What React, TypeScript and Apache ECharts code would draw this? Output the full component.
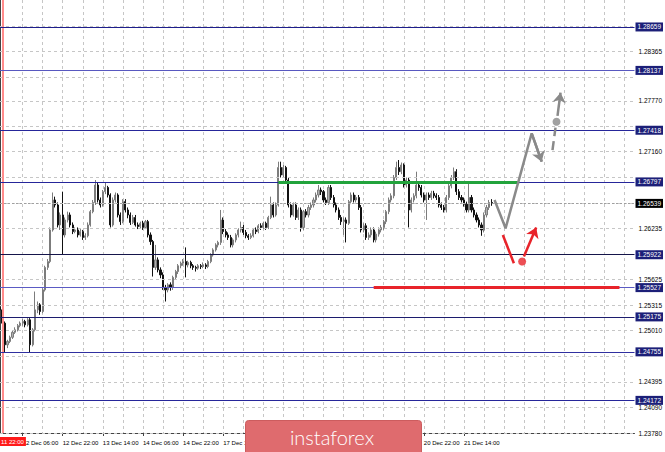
import React, { useEffect, useRef } from 'react';
import * as echarts from 'echarts';

// [open, close, low, high] per H1 bar
const candles: number[][] = [
  [1.2529, 1.2526, 1.2522, 1.2532],
  [1.2526, 1.2510, 1.2508, 1.2529],
  [1.2510, 1.2484, 1.2475, 1.2512],
  [1.2484, 1.2488, 1.2480, 1.2490],
  [1.2488, 1.2493, 1.2486, 1.2495],
  [1.2493, 1.2499, 1.2491, 1.2501],
  [1.2499, 1.2502, 1.2497, 1.2505],
  [1.2502, 1.2507, 1.2500, 1.2509],
  [1.2507, 1.2510, 1.2505, 1.2512],
  [1.2510, 1.2512, 1.2507, 1.2515],
  [1.2512, 1.2508, 1.2505, 1.2514],
  [1.2508, 1.2514, 1.2506, 1.2516],
  [1.2514, 1.2484, 1.2475, 1.2516],
  [1.2484, 1.2502, 1.2482, 1.2504],
  [1.2502, 1.2526, 1.2500, 1.2548],
  [1.2526, 1.2532, 1.2522, 1.2536],
  [1.2532, 1.2524, 1.2520, 1.2534],
  [1.2524, 1.2550, 1.2522, 1.2552],
  [1.2550, 1.2577, 1.2548, 1.2579],
  [1.2577, 1.2584, 1.2574, 1.2587],
  [1.2584, 1.2622, 1.2582, 1.2625],
  [1.2622, 1.2658, 1.2620, 1.2667],
  [1.2658, 1.2652, 1.2649, 1.2662],
  [1.2652, 1.2628, 1.2625, 1.2655],
  [1.2628, 1.2640, 1.2622, 1.2643],
  [1.2640, 1.2616, 1.2592, 1.2668],
  [1.2616, 1.2634, 1.2613, 1.2637],
  [1.2634, 1.2640, 1.2631, 1.2644],
  [1.2640, 1.2628, 1.2625, 1.2643],
  [1.2628, 1.2620, 1.2617, 1.2631],
  [1.2620, 1.2622, 1.2618, 1.2625],
  [1.2622, 1.2616, 1.2613, 1.2625],
  [1.2616, 1.2620, 1.2614, 1.2623],
  [1.2620, 1.2613, 1.2610, 1.2622],
  [1.2613, 1.2615, 1.2610, 1.2618],
  [1.2615, 1.2628, 1.2613, 1.2631],
  [1.2628, 1.2644, 1.2626, 1.2646],
  [1.2644, 1.2655, 1.2642, 1.2658],
  [1.2655, 1.2676, 1.2652, 1.2682],
  [1.2676, 1.2658, 1.2655, 1.2679],
  [1.2658, 1.2652, 1.2649, 1.2661],
  [1.2652, 1.2668, 1.2650, 1.2670],
  [1.2668, 1.2673, 1.2665, 1.2679],
  [1.2673, 1.2664, 1.2661, 1.2675],
  [1.2664, 1.2628, 1.2625, 1.2666],
  [1.2628, 1.2658, 1.2626, 1.2661],
  [1.2658, 1.2664, 1.2655, 1.2667],
  [1.2664, 1.2640, 1.2637, 1.2666],
  [1.2640, 1.2632, 1.2628, 1.2643],
  [1.2632, 1.2656, 1.2630, 1.2659],
  [1.2656, 1.2646, 1.2643, 1.2659],
  [1.2646, 1.2640, 1.2636, 1.2649],
  [1.2640, 1.2631, 1.2628, 1.2643],
  [1.2631, 1.2637, 1.2629, 1.2640],
  [1.2637, 1.2628, 1.2626, 1.2640],
  [1.2628, 1.2626, 1.2623, 1.2631],
  [1.2626, 1.2630, 1.2624, 1.2632],
  [1.2630, 1.2625, 1.2622, 1.2633],
  [1.2625, 1.2632, 1.2623, 1.2634],
  [1.2632, 1.2616, 1.2613, 1.2634],
  [1.2616, 1.2608, 1.2604, 1.2619],
  [1.2608, 1.2577, 1.2566, 1.2610],
  [1.2577, 1.2586, 1.2574, 1.2604],
  [1.2586, 1.2574, 1.2571, 1.2589],
  [1.2574, 1.2568, 1.2564, 1.2577],
  [1.2568, 1.2553, 1.2550, 1.2571],
  [1.2553, 1.2550, 1.2536, 1.2556],
  [1.2550, 1.2556, 1.2547, 1.2558],
  [1.2556, 1.2553, 1.2549, 1.2559],
  [1.2553, 1.2565, 1.2550, 1.2567],
  [1.2565, 1.2572, 1.2562, 1.2574],
  [1.2572, 1.2579, 1.2569, 1.2581],
  [1.2579, 1.2582, 1.2576, 1.2584],
  [1.2582, 1.2584, 1.2579, 1.2587],
  [1.2584, 1.2580, 1.2565, 1.2601],
  [1.2580, 1.2583, 1.2577, 1.2585],
  [1.2583, 1.2579, 1.2576, 1.2585],
  [1.2579, 1.2577, 1.2574, 1.2581],
  [1.2577, 1.2576, 1.2572, 1.2579],
  [1.2576, 1.2579, 1.2574, 1.2581],
  [1.2579, 1.2578, 1.2575, 1.2581],
  [1.2578, 1.2580, 1.2576, 1.2583],
  [1.2580, 1.2578, 1.2575, 1.2582],
  [1.2578, 1.2584, 1.2576, 1.2586],
  [1.2584, 1.2592, 1.2582, 1.2594],
  [1.2592, 1.2598, 1.2590, 1.2600],
  [1.2598, 1.2604, 1.2596, 1.2606],
  [1.2604, 1.2607, 1.2601, 1.2609],
  [1.2607, 1.2634, 1.2604, 1.2646],
  [1.2634, 1.2620, 1.2617, 1.2637],
  [1.2620, 1.2616, 1.2613, 1.2623],
  [1.2616, 1.2613, 1.2610, 1.2619],
  [1.2613, 1.2604, 1.2601, 1.2616],
  [1.2604, 1.2610, 1.2601, 1.2612],
  [1.2610, 1.2616, 1.2607, 1.2618],
  [1.2616, 1.2622, 1.2613, 1.2624],
  [1.2622, 1.2625, 1.2619, 1.2632],
  [1.2625, 1.2619, 1.2616, 1.2628],
  [1.2619, 1.2615, 1.2612, 1.2622],
  [1.2615, 1.2613, 1.2610, 1.2617],
  [1.2613, 1.2615, 1.2611, 1.2618],
  [1.2615, 1.2622, 1.2613, 1.2624],
  [1.2622, 1.2620, 1.2617, 1.2625],
  [1.2620, 1.2627, 1.2618, 1.2629],
  [1.2627, 1.2625, 1.2622, 1.2630],
  [1.2625, 1.2630, 1.2623, 1.2632],
  [1.2630, 1.2625, 1.2622, 1.2632],
  [1.2625, 1.2637, 1.2623, 1.2639],
  [1.2637, 1.2652, 1.2635, 1.2662],
  [1.2652, 1.2640, 1.2637, 1.2655],
  [1.2640, 1.2652, 1.2638, 1.2655],
  [1.2652, 1.2697, 1.2650, 1.2704],
  [1.2697, 1.2688, 1.2685, 1.2704],
  [1.2688, 1.2697, 1.2685, 1.2700],
  [1.2697, 1.2682, 1.2679, 1.2699],
  [1.2682, 1.2652, 1.2649, 1.2685],
  [1.2652, 1.2640, 1.2637, 1.2655],
  [1.2640, 1.2652, 1.2638, 1.2655],
  [1.2652, 1.2637, 1.2634, 1.2655],
  [1.2637, 1.2646, 1.2634, 1.2649],
  [1.2646, 1.2625, 1.2620, 1.2649],
  [1.2625, 1.2644, 1.2622, 1.2646],
  [1.2644, 1.2640, 1.2637, 1.2647],
  [1.2640, 1.2649, 1.2637, 1.2652],
  [1.2649, 1.2652, 1.2646, 1.2655],
  [1.2652, 1.2658, 1.2649, 1.2661],
  [1.2658, 1.2664, 1.2655, 1.2667],
  [1.2664, 1.2670, 1.2661, 1.2676],
  [1.2670, 1.2668, 1.2664, 1.2673],
  [1.2668, 1.2658, 1.2655, 1.2670],
  [1.2658, 1.2655, 1.2652, 1.2661],
  [1.2655, 1.2673, 1.2652, 1.2676],
  [1.2673, 1.2661, 1.2658, 1.2676],
  [1.2661, 1.2652, 1.2649, 1.2664],
  [1.2652, 1.2646, 1.2643, 1.2655],
  [1.2646, 1.2637, 1.2634, 1.2649],
  [1.2637, 1.2632, 1.2628, 1.2640],
  [1.2632, 1.2634, 1.2616, 1.2637],
  [1.2634, 1.2630, 1.2607, 1.2637],
  [1.2630, 1.2656, 1.2628, 1.2658],
  [1.2656, 1.2664, 1.2653, 1.2667],
  [1.2664, 1.2658, 1.2655, 1.2667],
  [1.2658, 1.2661, 1.2655, 1.2664],
  [1.2661, 1.2649, 1.2646, 1.2664],
  [1.2649, 1.2622, 1.2619, 1.2652],
  [1.2622, 1.2627, 1.2619, 1.2630],
  [1.2627, 1.2613, 1.2610, 1.2630],
  [1.2613, 1.2616, 1.2610, 1.2619],
  [1.2616, 1.2622, 1.2613, 1.2625],
  [1.2622, 1.2610, 1.2607, 1.2625],
  [1.2610, 1.2617, 1.2607, 1.2620],
  [1.2617, 1.2622, 1.2614, 1.2625],
  [1.2622, 1.2625, 1.2619, 1.2628],
  [1.2625, 1.2632, 1.2622, 1.2634],
  [1.2632, 1.2644, 1.2629, 1.2646],
  [1.2644, 1.2658, 1.2641, 1.2661],
  [1.2658, 1.2663, 1.2655, 1.2666],
  [1.2663, 1.2685, 1.2660, 1.2688],
  [1.2685, 1.2697, 1.2682, 1.2704],
  [1.2697, 1.2692, 1.2688, 1.2706],
  [1.2692, 1.2700, 1.2689, 1.2703],
  [1.2700, 1.2676, 1.2673, 1.2702],
  [1.2676, 1.2682, 1.2673, 1.2685],
  [1.2682, 1.2646, 1.2625, 1.2685],
  [1.2646, 1.2658, 1.2643, 1.2661],
  [1.2658, 1.2663, 1.2655, 1.2666],
  [1.2663, 1.2676, 1.2660, 1.2692],
  [1.2676, 1.2673, 1.2669, 1.2679],
  [1.2673, 1.2664, 1.2661, 1.2676],
  [1.2664, 1.2658, 1.2655, 1.2667],
  [1.2658, 1.2664, 1.2634, 1.2667],
  [1.2664, 1.2661, 1.2658, 1.2667],
  [1.2661, 1.2666, 1.2658, 1.2669],
  [1.2666, 1.2663, 1.2660, 1.2669],
  [1.2663, 1.2661, 1.2658, 1.2666],
  [1.2661, 1.2652, 1.2649, 1.2664],
  [1.2652, 1.2649, 1.2646, 1.2655],
  [1.2649, 1.2646, 1.2643, 1.2652],
  [1.2646, 1.2661, 1.2643, 1.2664],
  [1.2661, 1.2675, 1.2658, 1.2678],
  [1.2675, 1.2685, 1.2672, 1.2688],
  [1.2685, 1.2692, 1.2682, 1.2697],
  [1.2692, 1.2668, 1.2664, 1.2695],
  [1.2668, 1.2661, 1.2658, 1.2671],
  [1.2661, 1.2658, 1.2655, 1.2664],
  [1.2658, 1.2653, 1.2650, 1.2661],
  [1.2653, 1.2646, 1.2643, 1.2656],
  [1.2646, 1.2661, 1.2643, 1.2679],
  [1.2661, 1.2646, 1.2643, 1.2664],
  [1.2646, 1.2640, 1.2637, 1.2649],
  [1.2640, 1.2634, 1.2631, 1.2643],
  [1.2634, 1.2628, 1.2625, 1.2637],
  [1.2628, 1.2622, 1.2615, 1.2631],
  [1.2622, 1.2640, 1.2619, 1.2643],
  [1.2640, 1.2649, 1.2637, 1.2652],
  [1.2649, 1.2655, 1.2646, 1.2658],
  [1.2655, 1.2654, 1.2651, 1.2659],
];

const barSlots = 254;
const yMin = 1.2378;
const yMax = 1.28983;

const gridPrices = [1.2378, 1.2409, 1.24395, 1.247, 1.2501, 1.25315, 1.25625, 1.2593, 1.26235,
  1.26545, 1.2685, 1.2716, 1.27465, 1.2777, 1.2806, 1.28365, 1.2867];
const priceLabels = [1.2378, 1.2409, 1.24395, 1.2501, 1.25315, 1.25625, 1.26235, 1.2716, 1.2777, 1.28365];

const levelPrices = [1.28659, 1.28137, 1.27418, 1.26797, 1.25922, 1.25527, 1.25175, 1.24755, 1.24172];
const levelColors = ['#1e1e8c', '#5858c0', '#26269a', '#26269a', '#15154a', '#5a5ac4', '#1c1c6e', '#3030a0', '#26269a'];
const currentPrice = 1.26539;

const timeLabelIndex = [9, 25, 41, 57, 73, 89, 169, 185];
const timeLabels = ['12 Dec 06:00', '12 Dec 22:00', '13 Dec 14:00', '14 Dec 06:00', '14 Dec 22:00',
  '17 Dec 14:00', '20 Dec 22:00', '21 Dec 14:00'];

const separatorIndex = 1;
const separatorLabel = '11 22:00';

const resistanceLine = [[111, 1.26797], [207, 1.26797]];
const supportLine = [[149, 1.25527], [247, 1.25527]];

const grayPath = [[197.2, 1.2658], [201.6, 1.2624], [212, 1.2738], [216, 1.2704]];
const grayDashed = [[220.3, 1.2718], [221.5, 1.2745]];
const grayDot = [221.9, 1.2752];
const grayArrowUp = [[222.3, 1.2759], [223.5, 1.2787]];
const redPath = [[200.5, 1.2616], [204.9, 1.2582]];
const redDot = [208.2, 1.2584];
const redArrowUp = [[208.9, 1.259], [213.8, 1.2625]];

const FONT = 'Liberation Sans';
const GRAY = '#8a8a8a';
const RED = '#e8232a';
const GREEN = '#22a33c';

export default function App() {
  const ref = useRef<HTMLDivElement>(null);

  useEffect(() => {
    const chart = echarts.init(ref.current as HTMLDivElement, null, { renderer: 'svg' });
    const categories = Array.from({ length: barSlots }, (_, i) => String(i));
    const labelAt = new Map<number, string>(timeLabelIndex.map((idx, k) => [idx, timeLabels[k]]));

    const levelBox = (bg: string) => ({
      show: true,
      position: 'end',
      distance: 1,
      backgroundColor: bg,
      color: '#fff',
      fontSize: 6.5,
      fontFamily: FONT,
      padding: [1, 2, 1, 2],
      formatter: (p: any) => Number(p.value).toFixed(5),
    });

    const segment = (pts: number[][], extra: any = {}) => [{ coord: pts[0], ...extra }, { coord: pts[1] }];

    chart.setOption({
      animation: false,
      backgroundColor: '#ffffff',
      grid: { left: 0, top: 0, width: 636, height: 433 },
      xAxis: [
        {
          type: 'category',
          data: categories,
          boundaryGap: false,
          axisLine: { show: true, onZero: false, lineStyle: { color: '#444', width: 1 } },
          axisTick: { show: true, interval: (i: number) => labelAt.has(i), length: 3, lineStyle: { color: '#444' } },
          axisLabel: {
            show: true,
            interval: (i: number) => labelAt.has(i),
            formatter: (_v: string, i: number) => labelAt.get(i) || '',
            align: 'left',
            fontSize: 6,
            color: '#000',
            margin: 7,
            fontFamily: FONT,
            showMinLabel: true,
            showMaxLabel: true,
            hideOverlap: false,
          },
          splitLine: {
            show: true,
            interval: (i: number) => i % 8 === 1,
            lineStyle: { color: '#c6c6c6', type: [3, 3], width: 1 },
          },
        },
        { type: 'value', min: 0, max: barSlots - 1, show: false },
      ],
      yAxis: {
        type: 'value',
        position: 'right',
        min: yMin,
        max: yMax,
        axisLine: { show: true, lineStyle: { color: '#444', width: 1 } },
        axisTick: { show: true, customValues: priceLabels, length: 3, lineStyle: { color: '#444' } },
        axisLabel: {
          show: true,
          customValues: priceLabels,
          formatter: (v: number) => v.toFixed(5),
          fontSize: 6.5,
          color: '#000',
          margin: 4,
          fontFamily: FONT,
          showMinLabel: true,
          showMaxLabel: true,
        },
        splitLine: { show: false },
      },
      graphic: [
        {
          type: 'text',
          left: 0,
          top: 437,
          z: 50,
          style: {
            text: separatorLabel,
            fill: '#ffffff',
            backgroundColor: '#ff1a1a',
            fontSize: 6,
            fontFamily: FONT,
            padding: [2, 2, 1, 1],
          },
        },
        {
          type: 'rect',
          left: 245,
          top: 420,
          shape: { width: 176, height: 40, r: 3 },
          style: { fill: '#df6b6e', stroke: '#cc5c5e', lineWidth: 1 },
          z: 100,
        },
        {
          type: 'text',
          x: 332,
          y: 437,
          style: {
            text: 'instaforex',
            fill: '#ffffff',
            fontSize: 20,
            fontWeight: 300,
            fontFamily: 'Lato',
            align: 'center',
            verticalAlign: 'middle',
          },
          z: 101,
        },
      ],
      series: [
        {
          name: 'grid',
          type: 'line',
          xAxisIndex: 1,
          data: [],
          z: 1,
          silent: true,
          markLine: {
            silent: true,
            precision: 5,
            symbol: ['none', 'none'],
            label: { show: false },
            lineStyle: { color: '#c6c6c6', type: [3, 3], width: 1 },
            data: gridPrices.map((v) => ({ yAxis: v })),
          },
        },
        {
          name: 'separator',
          type: 'line',
          xAxisIndex: 1,
          data: [],
          z: 2,
          silent: true,
          markLine: {
            silent: true,
            precision: 5,
            symbol: ['none', 'none'],
            label: { show: false },
            lineStyle: { color: '#ff8c8c', type: 'solid', width: 2 },
            data: [{ xAxis: separatorIndex }],
          },
        },
        {
          name: 'levels',
          type: 'line',
          xAxisIndex: 1,
          data: [],
          z: 3,
          silent: true,
          markLine: {
            silent: true,
            precision: 5,
            symbol: ['none', 'none'],
            data: [
              ...levelPrices.map((v, k) => ({
                yAxis: v,
                lineStyle: { color: levelColors[k], type: 'solid', width: 1 },
                label: levelBox('#1c1f78'),
              })),
              {
                yAxis: currentPrice,
                lineStyle: { color: '#a0a0a0', type: [2, 2], width: 1 },
                label: levelBox('#000000'),
              },
            ],
          },
        },
        {
          name: 'GBPUSD',
          type: 'candlestick',
          xAxisIndex: 0,
          data: candles,
          barWidth: 1.6,
          z: 4,
          itemStyle: {
            color: '#b0b0b0',
            color0: '#111111',
            borderColor: '#7c7c7c',
            borderColor0: '#111111',
            borderWidth: 1,
          },
        },
        {
          name: 'zones',
          type: 'line',
          xAxisIndex: 1,
          data: [],
          z: 5,
          silent: true,
          markLine: {
            silent: true,
            precision: 5,
            symbol: ['none', 'none'],
            label: { show: false },
            data: [
              segment(resistanceLine, { lineStyle: { color: GREEN, width: 3, type: 'solid' } }),
              segment(supportLine, { lineStyle: { color: RED, width: 3, type: 'solid' } }),
            ],
          },
        },
        {
          name: 'grayPath',
          type: 'line',
          xAxisIndex: 1,
          data: grayPath,
          showSymbol: false,
          symbol: 'none',
          z: 6,
          silent: true,
          lineStyle: { color: GRAY, width: 2.5 },
          markLine: {
            silent: true,
            precision: 5,
            symbol: ['none', 'arrow'],
            symbolSize: 10,
            label: { show: false },
            lineStyle: { color: GRAY, width: 2.5, type: 'solid' },
            data: [segment(grayPath.slice(2, 4)), segment(grayArrowUp)],
          },
        },
        {
          name: 'grayDashed',
          type: 'line',
          xAxisIndex: 1,
          data: grayDashed,
          showSymbol: false,
          symbol: 'none',
          z: 6,
          silent: true,
          lineStyle: { color: GRAY, width: 2.5, type: [9, 5] },
        },
        {
          name: 'redPath',
          type: 'line',
          xAxisIndex: 1,
          data: redPath,
          showSymbol: false,
          symbol: 'none',
          z: 6,
          silent: true,
          lineStyle: { color: RED, width: 2.5 },
          markLine: {
            silent: true,
            precision: 5,
            symbol: ['none', 'arrow'],
            symbolSize: 10,
            label: { show: false },
            lineStyle: { color: RED, width: 2.5, type: 'solid' },
            data: [segment(redArrowUp)],
          },
        },
        {
          name: 'dots',
          type: 'scatter',
          xAxisIndex: 1,
          z: 7,
          silent: true,
          symbolSize: 8,
          data: [
            { value: grayDot, itemStyle: { color: GRAY } },
            { value: redDot, itemStyle: { color: RED } },
          ],
        },
      ],
    });

    return () => chart.dispose();
  }, []);

  return <div ref={ref} style={{ position: 'fixed', left: 0, top: 0, width: 665, height: 452 }} />;
}
